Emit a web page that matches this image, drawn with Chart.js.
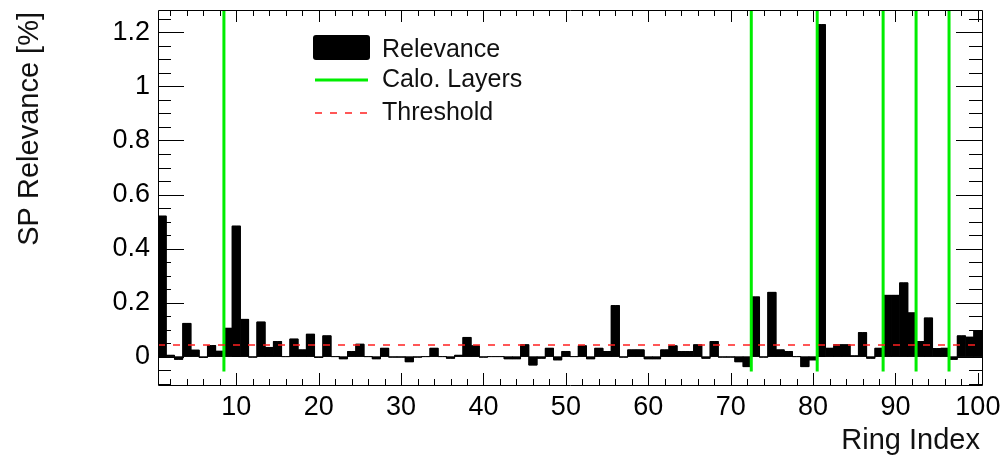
<!DOCTYPE html>
<html>
<head>
<meta charset="utf-8">
<script src="https://cdn.jsdelivr.net/npm/chart.js@4"></script>
<style>
  body { margin: 0; background: #fff; }
  canvas { display: block; }
</style>
</head>
<body>
<canvas id="relevanceChart" width="1004" height="457"></canvas>
<script>
// Ring relevance per ring index (bins 1..100)
var ringIndex = Array.from({length: 100}, (_, i) => i + 1);
var relevance = [
  0.520, 0.005, -0.010, 0.123, 0.024, -0.003, 0.041, 0.020, 0.105, 0.483,
  0.138, -0.002, 0.128, 0.034, 0.056, 0.000, 0.065, 0.025, 0.083, -0.003,
  0.077, 0.000, -0.008, 0.019, 0.046, 0.000, -0.008, 0.031, -0.002, -0.002,
  -0.019, -0.002, 0.000, 0.031, 0.000, -0.006, 0.005, 0.071, 0.040, -0.002,
  0.000, 0.000, -0.008, -0.008, 0.044, -0.031, -0.006, 0.031, -0.012, 0.019,
  0.000, 0.040, -0.008, 0.031, 0.019, 0.189, -0.002, 0.025, 0.025, -0.008,
  -0.008, 0.025, 0.040, 0.019, 0.019, 0.044, -0.006, 0.056, -0.002, -0.002,
  -0.019, -0.037, 0.221, -0.002, 0.238, 0.025, 0.019, 0.000, -0.037, -0.012,
  1.229, 0.031, 0.044, 0.044, 0.003, 0.089, -0.006, 0.031, 0.227, 0.227,
  0.273, 0.162, 0.056, 0.143, 0.030, 0.031, -0.010, 0.077, 0.072, 0.096
];
var layerEdges = [8.5, 72.5, 80.5, 88.5, 92.5, 96.5];   // calorimeter layer boundaries
var threshold = 0.043;
var xTickLabels = [10, 20, 30, 40, 50, 60, 70, 80, 90, 100];
var yTickLabels = [0, 0.2, 0.4, 0.6, 0.8, 1, 1.2];

var xMin = 0.5, xMax = 100.5;
var yMin = -0.105, yMax = 1.283;
var greenLow = -0.055;

var font = "'Liberation Sans', Arial, Helvetica, sans-serif";

// histogram outline (ROOT draws the bin outline, visible at zero)
var outline = [{x: xMin, y: relevance[0]}];
ringIndex.forEach((r, i) => outline.push({x: r, y: relevance[i]}));
outline.push({x: xMax, y: relevance[relevance.length - 1]});

var layerLines = [];
layerEdges.forEach(e => {
  layerLines.push({x: e, y: greenLow}, {x: e, y: yMax}, {x: e, y: null});
});

// frame, inner ticks on all four sides, legend and axis titles
var rootFrame = {
  id: 'rootFrame',
  afterDraw: function(chart) {
    var c = chart.ctx, a = chart.chartArea;
    var xs = chart.scales.x, ys = chart.scales.y;
    c.save();
    c.strokeStyle = '#000';
    c.lineWidth = 1;
    c.beginPath();
    c.rect(Math.round(a.left) + 0.5, Math.round(a.top) + 0.5,
           Math.round(a.right - a.left), Math.round(a.bottom - a.top));
    c.stroke();

    c.beginPath();
    for (var k = 2; k <= 100; k += 2) {
      var px = Math.round(xs.getPixelForValue(k)) + 0.5;
      var len = (k % 10 === 0) ? 12 : 6;
      c.moveTo(px, a.bottom); c.lineTo(px, a.bottom - len);
      c.moveTo(px, a.top); c.lineTo(px, a.top + len);
    }
    for (var j = -2; j <= 25; j++) {
      var py = Math.round(ys.getPixelForValue(j * 0.05)) + 0.5;
      var ylen = (j % 4 === 0) ? 26 : 13;
      c.moveTo(a.left, py); c.lineTo(a.left + ylen, py);
      c.moveTo(a.right, py); c.lineTo(a.right - ylen, py);
    }
    c.stroke();

    // legend
    c.fillStyle = '#000';
    c.beginPath();
    c.roundRect(313, 35, 57, 25, 3);
    c.fill();
    c.strokeStyle = '#00ee00';
    c.lineWidth = 3;
    c.beginPath(); c.moveTo(315, 80); c.lineTo(368, 80); c.stroke();
    c.strokeStyle = '#ff2020';
    c.lineWidth = 1.5;
    c.setLineDash([7, 8]);
    c.beginPath(); c.moveTo(315, 113); c.lineTo(370, 113); c.stroke();
    c.setLineDash([]);

    c.fillStyle = '#111';
    c.font = '25px ' + font;
    c.textAlign = 'left';
    c.textBaseline = 'middle';
    c.fillText('Relevance', 382, 50);
    c.fillText('Calo. Layers', 382, 80);
    c.fillText('Threshold', 382, 113);

    // axis titles
    c.font = '29px ' + font;
    c.textAlign = 'right';
    c.textBaseline = 'alphabetic';
    c.fillText('Ring Index', 980, 449);
    c.translate(38, 12);
    c.rotate(-Math.PI / 2);
    c.fillText('SP Relevance [%]', 0, 0);
    c.restore();
  }
};

var ctx = document.getElementById('relevanceChart').getContext('2d');
var chart = new Chart(ctx, {
  type: 'bar',
  data: {
    datasets: [
      {
        type: 'line',
        data: [{x: xMin, y: threshold}, {x: xMax, y: threshold}],
        borderColor: '#ff2020',
        borderWidth: 1.5,
        borderDash: [7, 8],
        pointRadius: 0,
        order: 0
      },
      {
        type: 'line',
        data: layerLines,
        borderColor: '#00ee00',
        borderWidth: 3,
        pointRadius: 0,
        spanGaps: false,
        order: 1
      },
      {
        type: 'line',
        data: outline,
        stepped: 'middle',
        borderColor: '#000',
        borderWidth: 1,
        pointRadius: 0,
        order: 2
      },
      {
        label: 'Relevance',
        data: ringIndex.map((r, i) => ({x: r, y: relevance[i]})),
        backgroundColor: '#000',
        borderWidth: 0,
        barPercentage: 1,
        categoryPercentage: 1,
        order: 3
      }
    ]
  },
  options: {
    responsive: false,
    animation: false,
    layout: { padding: { top: 10, right: 22, left: 0, bottom: 0 } },
    plugins: {
      legend: { display: false },
      tooltip: { enabled: false }
    },
    scales: {
      x: {
        type: 'linear',
        min: xMin,
        max: xMax,
        offset: false,
        grid: { display: false, drawTicks: false },
        border: { display: false },
        afterBuildTicks: s => { s.ticks = xTickLabels.map(v => ({value: v})); },
        afterFit: s => { s.height = 72; s.paddingLeft = 0; s.paddingRight = 0; },
        ticks: {
          color: '#000',
          font: { family: font, size: 27 },
          padding: 6,
          maxRotation: 0,
          autoSkip: false
        }
      },
      y: {
        min: yMin,
        max: yMax,
        grid: { display: false, drawTicks: false },
        border: { display: false },
        afterBuildTicks: s => { s.ticks = yTickLabels.map(v => ({value: v})); },
        afterFit: s => { s.width = 158; s.paddingTop = 0; s.paddingBottom = 0; },
        ticks: {
          color: '#000',
          font: { family: font, size: 27 },
          padding: 8,
          callback: v => String(Number(v.toFixed(1)))
        }
      }
    }
  },
  plugins: [rootFrame]
});
</script>
</body>
</html>
